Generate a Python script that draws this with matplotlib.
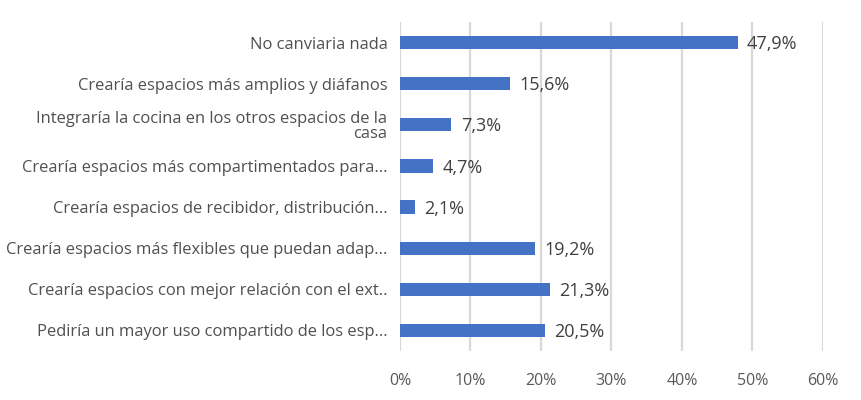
import matplotlib
matplotlib.use("Agg")
import matplotlib.pyplot as plt
from matplotlib.ticker import MultipleLocator, FuncFormatter

categories = [
    "No canviaria nada",
    "Crearía espacios más amplios y diáfanos",
    "Integraría la cocina en los otros espacios de la\ncasa",
    "Crearía espacios más compartimentados para...",
    "Crearía espacios de recibidor, distribución...",
    "Crearía espacios más flexibles que puedan adap...",
    "Crearía espacios con mejor relación con el ext..",
    "Pediría un mayor uso compartido de los esp...",
]
values = [47.9, 15.6, 7.3, 4.7, 2.1, 19.2, 21.3, 20.5]
value_labels = ["47,9%", "15,6%", "7,3%", "4,7%", "2,1%", "19,2%", "21,3%", "20,5%"]

fig = plt.figure(figsize=(8.62, 4.0), dpi=100)
ax = fig.add_axes([400/862, 1-351/400, 423/862, 329/400])

ypos = list(range(len(categories)))
ax.barh(ypos, values, height=0.32, color="#4472C4", zorder=3)
ax.set_ylim(len(categories) - 0.5, -0.5)
ax.set_xlim(0, 60)
ax.xaxis.set_major_locator(MultipleLocator(10))
ax.xaxis.set_major_formatter(FuncFormatter(lambda v, p: f"{int(v)}%"))
ax.grid(axis="x", color="#d9d9d9", linewidth=1.6, zorder=0)
for s in ax.spines.values():
    s.set_visible(False)

ax.set_yticks(ypos)
ax.set_yticklabels(categories, fontfamily="Open Sans", fontsize=11.9, color="#505050",
                   linespacing=0.95)
ax.tick_params(axis="y", length=0, pad=9)
ax.tick_params(axis="x", length=0, pad=15.5, labelsize=11.5, labelcolor="#595959")
for lab in ax.get_xticklabels():
    lab.set_fontfamily("Open Sans")

for y, v, t in zip(ypos, values, value_labels):
    ax.text(v + 1.3, y + 0.04, t, va="center", ha="left", fontsize=13,
            fontfamily="Open Sans", color="#404040")

fig.savefig("out.png", dpi=100)
